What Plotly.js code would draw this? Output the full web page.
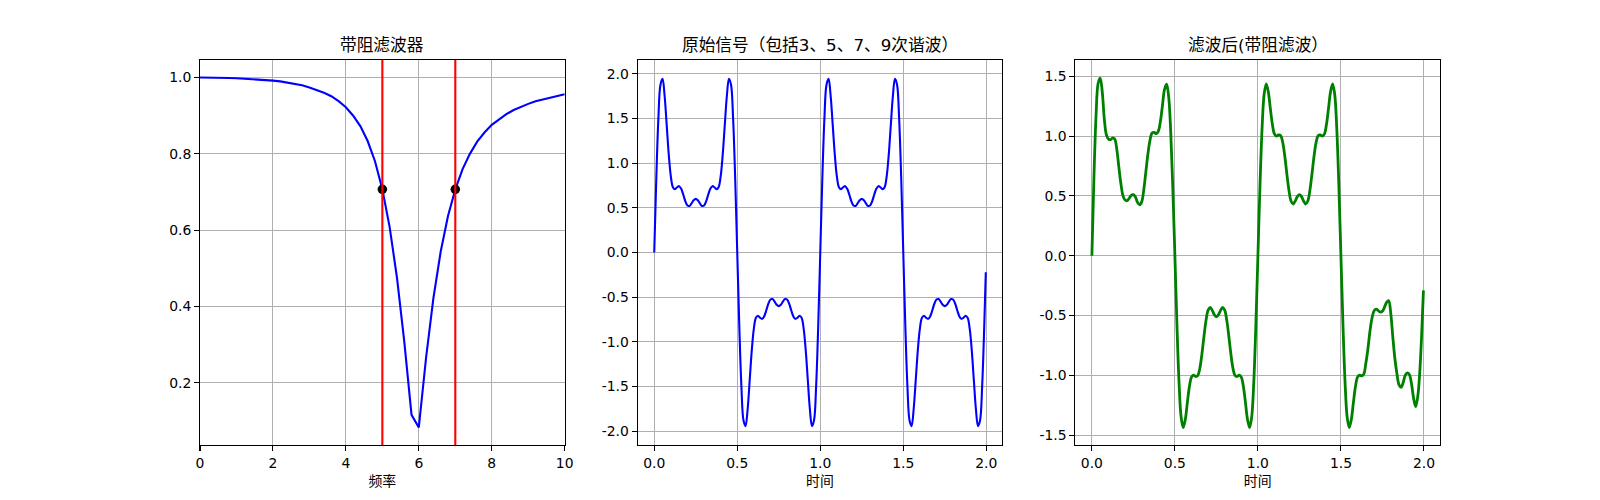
<!DOCTYPE html>
<html>
<head>
<meta charset="utf-8">
<script src="https://cdn.plot.ly/plotly-3.0.1.min.js"></script>
<style>
  html, body { margin: 0; padding: 0; background: #fff; }
  #chart { width: 1600px; height: 500px; }
</style>
</head>
<body>
<div id="chart"></div>
<script>
// ─── data ───────────────────────────────────────────────
// band-stop response (left)
var freq = [0, 0.2, 0.4, 0.6, 0.8, 1.0, 1.2, 1.4, 1.6, 1.8,
  2.0, 2.2, 2.4, 2.6, 2.8, 3.0, 3.2, 3.4, 3.6, 3.8,
  4.0, 4.2, 4.4, 4.6, 4.8, 5.0, 5.2, 5.4, 5.6, 5.8,
  6.0, 6.2, 6.4, 6.6, 6.8, 7.0, 7.2, 7.4, 7.6, 7.8,
  8.0, 8.2, 8.4, 8.6, 8.8, 9.0, 9.2, 9.4, 9.6, 9.8, 10.0];
var gain = [1.000, 1.000, 1.000, 0.999, 0.999, 0.998, 0.997, 0.996, 0.995, 0.994,
  0.992, 0.990, 0.987, 0.984, 0.980, 0.974, 0.968, 0.960, 0.951, 0.938,
  0.922, 0.900, 0.872, 0.833, 0.780, 0.707, 0.608, 0.476, 0.309, 0.116,
  0.083, 0.267, 0.422, 0.544, 0.637, 0.707, 0.760, 0.800, 0.832, 0.856,
  0.876, 0.891, 0.904, 0.915, 0.924, 0.931, 0.938, 0.943, 0.948, 0.952, 0.956];
var cutoffFreq = [5, 7];
var cutoffGain = [0.707, 0.707];

// time signals (middle, right)
var timeS = [0, 0.0125, 0.025, 0.0375, 0.05, 0.0625, 0.075, 0.0875, 0.1, 0.1125,
  0.125, 0.1375, 0.15, 0.1625, 0.175, 0.1875, 0.2, 0.2125, 0.225, 0.2375,
  0.25, 0.2625, 0.275, 0.2875, 0.3, 0.3125, 0.325, 0.3375, 0.35, 0.3625,
  0.375, 0.3875, 0.4, 0.4125, 0.425, 0.4375, 0.45, 0.4625, 0.475, 0.4875,
  0.5, 0.5125, 0.525, 0.5375, 0.55, 0.5625, 0.575, 0.5875, 0.6, 0.6125,
  0.625, 0.6375, 0.65, 0.6625, 0.675, 0.6875, 0.7, 0.7125, 0.725, 0.7375,
  0.75, 0.7625, 0.775, 0.7875, 0.8, 0.8125, 0.825, 0.8375, 0.85, 0.8625,
  0.875, 0.8875, 0.9, 0.9125, 0.925, 0.9375, 0.95, 0.9625, 0.975, 0.9875,
  1.0, 1.0125, 1.025, 1.0375, 1.05, 1.0625, 1.075, 1.0875, 1.1, 1.1125,
  1.125, 1.1375, 1.15, 1.1625, 1.175, 1.1875, 1.2, 1.2125, 1.225, 1.2375,
  1.25, 1.2625, 1.275, 1.2875, 1.3, 1.3125, 1.325, 1.3375, 1.35, 1.3625,
  1.375, 1.3875, 1.4, 1.4125, 1.425, 1.4375, 1.45, 1.4625, 1.475, 1.4875,
  1.5, 1.5125, 1.525, 1.5375, 1.55, 1.5625, 1.575, 1.5875, 1.6, 1.6125,
  1.625, 1.6375, 1.65, 1.6625, 1.675, 1.6875, 1.7, 1.7125, 1.725, 1.7375,
  1.75, 1.7625, 1.775, 1.7875, 1.8, 1.8125, 1.825, 1.8375, 1.85, 1.8625,
  1.875, 1.8875, 1.9, 1.9125, 1.925, 1.9375, 1.95, 1.9625, 1.975, 1.9875,
  1.997];

var squareSum = [0, 0.834, 1.498, 1.877, 1.942, 1.753, 1.428, 1.095, 0.851, 0.729,
  0.707, 0.730, 0.742, 0.712, 0.646, 0.573, 0.526, 0.521, 0.549, 0.584,
  0.600, 0.584, 0.549, 0.521, 0.526, 0.573, 0.646, 0.712, 0.742, 0.730,
  0.707, 0.729, 0.851, 1.095, 1.428, 1.753, 1.942, 1.877, 1.498, 0.834,
  0, -0.834, -1.498, -1.877, -1.942, -1.753, -1.428, -1.095, -0.851, -0.729,
  -0.707, -0.730, -0.742, -0.712, -0.646, -0.573, -0.526, -0.521, -0.549, -0.584,
  -0.600, -0.584, -0.549, -0.521, -0.526, -0.573, -0.646, -0.712, -0.742, -0.730,
  -0.707, -0.729, -0.851, -1.095, -1.428, -1.753, -1.942, -1.877, -1.498, -0.834,
  0, 0.834, 1.498, 1.877, 1.942, 1.753, 1.428, 1.095, 0.851, 0.729,
  0.707, 0.730, 0.742, 0.712, 0.646, 0.573, 0.526, 0.521, 0.549, 0.584,
  0.600, 0.584, 0.549, 0.521, 0.526, 0.573, 0.646, 0.712, 0.742, 0.730,
  0.707, 0.729, 0.851, 1.095, 1.428, 1.753, 1.942, 1.877, 1.498, 0.834,
  0, -0.834, -1.498, -1.877, -1.942, -1.753, -1.428, -1.095, -0.851, -0.729,
  -0.707, -0.730, -0.742, -0.712, -0.646, -0.573, -0.526, -0.521, -0.549, -0.584,
  -0.600, -0.584, -0.549, -0.521, -0.526, -0.573, -0.646, -0.712, -0.742, -0.730,
  -0.707, -0.729, -0.851, -1.095, -1.428, -1.753, -1.942, -1.877, -1.498, -0.834,
  -0.22];

var filtered = [0, 0.66, 1.17, 1.44, 1.485, 1.37, 1.14, 1.01, 0.975, 0.97,
  0.985, 0.975, 0.89, 0.74, 0.60, 0.50, 0.465, 0.46, 0.48, 0.505,
  0.51, 0.49, 0.445, 0.425, 0.45, 0.55, 0.70, 0.85, 0.965, 1.025,
  1.03, 1.02, 1.04, 1.12, 1.255, 1.39, 1.435, 1.33, 1.03, 0.56,
  0, -0.587, -1.062, -1.350, -1.437, -1.370, -1.229, -1.094, -1.016, -0.999,
  -1.010, -1.003, -0.943, -0.825, -0.676, -0.541, -0.455, -0.432, -0.457, -0.494,
  -0.511, -0.494, -0.457, -0.432, -0.455, -0.541, -0.676, -0.825, -0.943, -1.003,
  -1.010, -0.999, -1.016, -1.094, -1.229, -1.370, -1.437, -1.350, -1.062, -0.587,
  0, 0.587, 1.062, 1.350, 1.437, 1.370, 1.229, 1.094, 1.016, 0.999,
  1.010, 1.003, 0.943, 0.825, 0.676, 0.541, 0.455, 0.432, 0.457, 0.494,
  0.511, 0.494, 0.457, 0.432, 0.455, 0.541, 0.676, 0.825, 0.943, 1.003,
  1.010, 0.999, 1.016, 1.094, 1.229, 1.370, 1.437, 1.350, 1.062, 0.587,
  0, -0.587, -1.062, -1.350, -1.437, -1.370, -1.229, -1.094, -1.016, -0.999,
  -1.005, -0.99, -0.90, -0.78, -0.63, -0.52, -0.46, -0.447, -0.46, -0.472,
  -0.465, -0.43, -0.39, -0.377, -0.48, -0.68, -0.86, -0.99, -1.08, -1.10,
  -1.06, -1.0, -0.98, -0.995, -1.07, -1.19, -1.262, -1.18, -0.97, -0.62,
  -0.29];

// ticks
var freqTicks = [0, 2, 4, 6, 8, 10];
var gainTicks = [0.2, 0.4, 0.6, 0.8, 1.0];
var gainTickText = ['0.2', '0.4', '0.6', '0.8', '1.0'];
var timeTicks = [0, 0.5, 1, 1.5, 2];
var timeTickText = ['0.0', '0.5', '1.0', '1.5', '2.0'];
var sumTicks = [-2, -1.5, -1, -0.5, 0, 0.5, 1, 1.5, 2];
var sumTickText = ['-2.0', '-1.5', '-1.0', '-0.5', '0.0', '0.5', '1.0', '1.5', '2.0'];
var filtTicks = [-1.5, -1, -0.5, 0, 0.5, 1, 1.5];
var filtTickText = ['-1.5', '-1.0', '-0.5', '0.0', '0.5', '1.0', '1.5'];

var titles = ['带阻滤波器', '原始信号（包括3、5、7、9次谐波）', '滤波后(带阻滤波）'];
var xLabels = ['频率', '时间', '时间'];

// ─── layout helpers ─────────────────────────────────────
var FONT = 'DejaVu Sans, "Noto Sans CJK SC", sans-serif';
var domains = [[0.125, 0.35294], [0.39853, 0.62647], [0.67206, 0.9]];
var yDomain = [0.11, 0.88];

function axisBase(extra) {
  var ax = {
    showline: true, mirror: true, linecolor: '#000', linewidth: 1.1,
    ticks: 'outside', ticklen: 4.9, tickwidth: 1.1, tickcolor: '#000',
    showgrid: true, gridcolor: '#b0b0b0', gridwidth: 1.1,
    zeroline: false, tickmode: 'array',
    tickfont: { family: FONT, size: 13.9, color: '#000' },
  };
  return Object.assign(ax, extra);
}

function xAxis(i, range, vals, text) {
  return axisBase({
    domain: domains[i], range: range, tickvals: vals, ticktext: text,
    anchor: i === 0 ? 'y' : 'y' + (i + 1),
    title: { text: xLabels[i], font: { family: FONT, size: 13.9, color: '#000' }, standoff: 6 },
  });
}

function yAxis(i, range, vals, text) {
  return axisBase({
    domain: yDomain, range: range, tickvals: vals, ticktext: text,
    anchor: i === 0 ? 'x' : 'x' + (i + 1),
  });
}

var traces = [
  { type: 'scatter', mode: 'lines', x: freq, y: gain, xaxis: 'x', yaxis: 'y',
    line: { color: '#0000ff', width: 2.1 }, hoverinfo: 'skip' },
  { type: 'scatter', mode: 'markers', x: cutoffFreq, y: cutoffGain, xaxis: 'x', yaxis: 'y',
    marker: { color: '#000', size: 9.5 }, hoverinfo: 'skip' },
  { type: 'scatter', mode: 'lines', x: timeS, y: squareSum, xaxis: 'x2', yaxis: 'y2',
    line: { color: '#0000ff', width: 2.1, shape: 'spline', smoothing: 1 }, hoverinfo: 'skip' },
  { type: 'scatter', mode: 'lines', x: timeS, y: filtered, xaxis: 'x3', yaxis: 'y3',
    line: { color: '#008000', width: 2.8, shape: 'spline', smoothing: 1 }, hoverinfo: 'skip' },
];

// red cut-off lines sit on top of the curve and the dots
var shapes = cutoffFreq.map(function (f) {
  return { type: 'line', xref: 'x', yref: 'y domain', x0: f, x1: f, y0: 0, y1: 1,
    line: { color: '#ff0000', width: 2.1 }, layer: 'above' };
});

var annotations = titles.map(function (t, i) {
  return {
    text: t, xref: 'paper', yref: 'paper',
    x: (domains[i][0] + domains[i][1]) / 2, y: yDomain[1],
    xanchor: 'center', yanchor: 'bottom', yshift: 3, showarrow: false,
    font: { family: FONT, size: 16.7, color: '#000' },
  };
});

var layout = {
  width: 1600, height: 500, autosize: false,
  margin: { l: 0, r: 0, t: 0, b: 0 },
  paper_bgcolor: '#fff', plot_bgcolor: '#fff',
  showlegend: false,
  font: { family: FONT, color: '#000' },
  xaxis: xAxis(0, [0, 10], freqTicks, freqTicks.map(String)),
  yaxis: yAxis(0, [0.037, 1.046], gainTicks, gainTickText),
  xaxis2: xAxis(1, [-0.0999, 2.0967], timeTicks, timeTickText),
  yaxis2: yAxis(1, [-2.153, 2.153], sumTicks, sumTickText),
  xaxis3: xAxis(2, [-0.0999, 2.0967], timeTicks, timeTickText),
  yaxis3: yAxis(2, [-1.583, 1.636], filtTicks, filtTickText),
  shapes: shapes,
  annotations: annotations,
};

Plotly.newPlot('chart', traces, layout, { staticPlot: true, displayModeBar: false });
</script>
</body>
</html>
